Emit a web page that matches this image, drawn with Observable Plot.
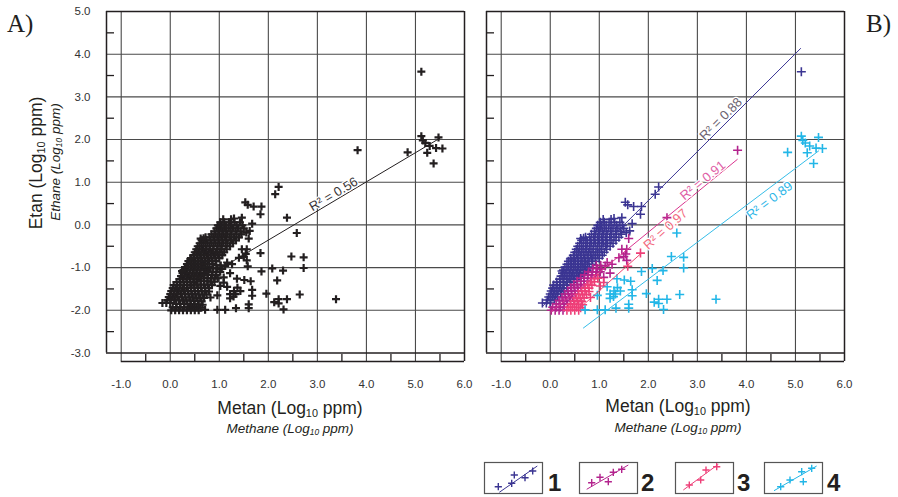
<!DOCTYPE html>
<html>
<head>
<meta charset="utf-8">
<script src="https://cdn.jsdelivr.net/npm/d3@7"></script>
<script src="https://cdn.jsdelivr.net/npm/@observablehq/plot@0.6"></script>
<style>
html,body{margin:0;padding:0;background:#fff;}
#wrap{position:relative;width:898px;height:497px;overflow:hidden;font-family:"Liberation Sans",Arial,Helvetica,sans-serif;color:#231f20;}
.abs{position:absolute;line-height:1;white-space:nowrap;}
.c{transform:translate(-50%,-50%);}
.v{transform:translate(-50%,-50%) rotate(-90deg);}
.main{font-size:17.5px;}
.it{font-size:13.5px;font-style:italic;}
.lab{font-family:"Liberation Serif","Times New Roman",serif;font-size:25px;}
sub{font-size:0.62em;vertical-align:baseline;position:relative;top:0.28em;}
.panel{position:absolute;top:0;}
</style>
</head>
<body>
<div id="wrap"></div>
<script>
// ---------- DATA (log10 ppm) ----------
// group 1 (blue)
const group1 = [
[-0.16,-1.83],[-0.08,-1.83],[0.0,-1.83],
[-0.06,-1.76],[0.01,-1.76],[0.08,-1.76],
[-0.03,-1.69],[0.04,-1.69],[0.11,-1.69],[0.15,-1.69],
[0.0,-1.62],[0.07,-1.62],[0.14,-1.62],[0.21,-1.62],
[0.02,-1.55],[0.09,-1.55],[0.16,-1.55],[0.23,-1.55],[0.28,-1.55],
[0.05,-1.48],[0.12,-1.48],[0.19,-1.48],[0.26,-1.48],[0.34,-1.48],
[0.07,-1.41],[0.14,-1.41],[0.21,-1.41],[0.28,-1.41],[0.35,-1.41],[0.42,-1.41],
[0.13,-1.34],[0.2,-1.34],[0.27,-1.34],[0.34,-1.34],[0.41,-1.34],[0.48,-1.34],
[0.19,-1.27],[0.26,-1.27],[0.33,-1.27],[0.4,-1.27],[0.47,-1.27],[0.55,-1.27],
[0.22,-1.2],[0.29,-1.2],[0.36,-1.2],[0.43,-1.2],[0.5,-1.2],[0.57,-1.2],[0.62,-1.2],
[0.25,-1.13],[0.32,-1.13],[0.39,-1.13],[0.46,-1.13],[0.53,-1.13],[0.6,-1.13],[0.68,-1.13],
[0.27,-1.06],[0.34,-1.06],[0.41,-1.06],[0.48,-1.06],[0.55,-1.06],[0.62,-1.06],[0.69,-1.06],[0.75,-1.06],
[0.3,-0.99],[0.37,-0.99],[0.44,-0.99],[0.51,-0.99],[0.58,-0.99],[0.65,-0.99],[0.72,-0.99],[0.8,-0.99],
[0.34,-0.92],[0.41,-0.92],[0.48,-0.92],[0.55,-0.92],[0.62,-0.92],[0.69,-0.92],[0.76,-0.92],[0.86,-0.92],
[0.37,-0.85],[0.44,-0.85],[0.51,-0.85],[0.58,-0.85],[0.65,-0.85],[0.72,-0.85],[0.79,-0.85],[0.86,-0.85],[0.93,-0.85],
[0.42,-0.78],[0.49,-0.78],[0.56,-0.78],[0.63,-0.78],[0.7,-0.78],[0.77,-0.78],[0.84,-0.78],[0.92,-0.78],[1.0,-0.78],
[0.47,-0.71],[0.54,-0.71],[0.61,-0.71],[0.68,-0.71],[0.75,-0.71],[0.82,-0.71],[0.89,-0.71],[0.97,-0.71],[1.06,-0.71],
[0.5,-0.64],[0.57,-0.64],[0.64,-0.64],[0.71,-0.64],[0.78,-0.64],[0.85,-0.64],[0.93,-0.64],[1.01,-0.64],[1.1,-0.64],
[0.53,-0.57],[0.6,-0.57],[0.67,-0.57],[0.74,-0.57],[0.81,-0.57],[0.88,-0.57],[0.96,-0.57],[1.05,-0.57],[1.15,-0.57],
[0.56,-0.5],[0.64,-0.5],[0.72,-0.5],[0.8,-0.5],[0.88,-0.5],[0.96,-0.5],[1.04,-0.5],[1.13,-0.5],[1.22,-0.5],
[0.6,-0.43],[0.68,-0.43],[0.76,-0.43],[0.84,-0.43],[0.92,-0.43],[1.0,-0.43],[1.08,-0.43],[1.17,-0.43],[1.28,-0.43],
[0.64,-0.36],[0.73,-0.36],[0.82,-0.36],[0.9,-0.36],[0.98,-0.36],[1.06,-0.36],[1.14,-0.36],[1.24,-0.36],[1.34,-0.36],
[0.72,-0.29],[0.8,-0.29],[0.88,-0.29],[0.96,-0.29],[1.04,-0.29],[1.12,-0.29],[1.21,-0.29],[1.3,-0.29],[1.4,-0.29],
[0.84,-0.22],[0.92,-0.22],[1.0,-0.22],[1.08,-0.22],[1.16,-0.22],[1.25,-0.22],[1.35,-0.22],[1.45,-0.22],
[0.9,-0.15],[0.98,-0.15],[1.06,-0.15],[1.14,-0.15],[1.23,-0.15],[1.33,-0.15],[1.43,-0.15],[1.55,-0.18],
[0.94,-0.08],[1.02,-0.08],[1.1,-0.08],[1.19,-0.08],[1.28,-0.08],[1.38,-0.08],[1.5,-0.08],[1.62,-0.14],
[0.97,-0.01],[1.05,-0.01],[1.14,-0.01],[1.24,-0.01],[1.35,-0.01],[1.47,-0.01],[1.67,0.03],
[1.02,0.06],[1.1,0.06],[1.2,0.06],[1.31,0.06],[1.42,0.06],
[1.08,0.13],[1.24,0.13],[1.3,0.15],[1.46,0.17],
[0.41,-0.8],[0.62,-0.32],[0.24,-1.08],[0.68,-0.31],
[1.53,0.53],[1.58,0.47],[1.7,0.43],[1.86,0.43],[1.84,0.25],[2.14,0.72],[2.21,0.89],[5.12,3.59]
];
// group 2 (magenta)
const group2 = [
[0.02,-2.0],[0.1,-2.0],[0.18,-2.0],[0.26,-2.0],
[0.05,-1.93],[0.13,-1.93],[0.21,-1.93],[0.29,-1.93],
[0.12,-1.85],[0.2,-1.85],[0.28,-1.85],[0.35,-1.85],
[0.18,-1.77],[0.26,-1.77],[0.33,-1.77],[0.41,-1.77],
[0.24,-1.7],[0.31,-1.7],[0.39,-1.7],[0.46,-1.7],
[0.3,-1.62],[0.37,-1.62],[0.44,-1.62],[0.51,-1.62],
[0.36,-1.55],[0.43,-1.55],[0.5,-1.55],[0.57,-1.55],
[0.42,-1.47],[0.49,-1.47],[0.56,-1.47],[0.63,-1.47],
[0.48,-1.4],[0.55,-1.4],[0.62,-1.4],[0.69,-1.4],
[0.55,-1.32],[0.62,-1.32],[0.69,-1.32],[0.76,-1.32],
[0.62,-1.25],[0.69,-1.25],[0.76,-1.25],[0.83,-1.25],
[0.7,-1.17],[0.77,-1.17],[0.85,-1.17],[0.93,-1.17],
[0.78,-1.1],[0.86,-1.1],[0.94,-1.1],[1.02,-1.1],
[0.87,-1.02],[0.96,-1.02],[1.05,-1.03],
[0.94,-0.95],[1.03,-0.95],[1.12,-0.96],
[1.09,-1.23],[1.22,-1.13],[1.16,-0.88],[1.26,-0.92],[1.4,-0.77],[1.5,-0.74],[1.56,-0.83],
[1.54,-0.68],[1.46,-0.57],[1.56,-0.57],[1.6,-0.32],[2.38,0.17],[3.82,1.75]
];
// group 3 (pink)
const group3 = [
[0.34,-2.0],[0.42,-2.0],[0.5,-2.0],[0.58,-2.0],
[0.38,-1.93],[0.46,-1.93],[0.54,-1.93],[0.62,-1.94],
[0.42,-1.86],[0.5,-1.86],[0.58,-1.86],[0.66,-1.87],
[0.48,-1.78],[0.56,-1.78],[0.64,-1.79],
[0.53,-1.71],[0.61,-1.71],[0.69,-1.71],[0.82,-1.7],
[0.58,-1.63],[0.66,-1.63],[0.74,-1.63],
[0.64,-1.55],[0.71,-1.55],[0.79,-1.56],
[0.71,-1.48],[0.79,-1.48],
[0.76,-1.4],[0.85,-1.41],
[0.82,-1.33],[0.9,-1.33],
[0.9,-1.26],[0.97,-1.25],
[1.02,-1.43],[1.09,-1.35],[1.58,-0.97],[1.84,-0.66]
];
// group 4 (cyan)
const group4 = [
[0.71,-1.99],[0.96,-1.99],[1.12,-1.99],[1.34,-1.95],[1.6,-1.95],[1.6,-1.86],
[0.96,-1.65],[1.22,-1.72],[1.22,-1.62],[1.29,-1.68],[1.33,-1.62],[1.3,-1.55],[1.37,-1.47],[1.43,-1.55],
[1.16,-1.45],[1.36,-1.26],[1.51,-1.29],[1.64,-1.32],[1.67,-1.52],[1.67,-1.66],
[1.86,-1.09],[2.08,-1.02],[2.3,-1.07],[2.18,-1.3],[1.96,-1.61],[2.12,-1.81],[2.21,-1.84],[2.21,-1.74],
[2.38,-1.74],[2.31,-1.98],[2.64,-1.63],[3.38,-1.74],
[2.47,-0.74],[2.72,-0.76],[2.72,-1.01],[2.58,-0.19],
[4.84,1.7],[5.12,2.08],[5.15,1.98],[5.2,1.92],[5.29,1.85],[5.47,2.05],[5.42,1.8],[5.55,1.79],[5.24,1.69],[5.37,1.44]
];
const groupNames = ["1", "2", "3", "4"];
const groupColors = ["#3b3592", "#b3238d", "#ee3f78", "#22b6e7"];

// fitted lines (end points) and R² labels
const fitGroups = ["all", "1", "2", "3", "4"];
const fitX1 = [-0.16, -0.16, 0.0, 0.6, 0.67];
const fitY1 = [-1.83, -1.91, -2.05, -1.95, -2.42];
const fitX2 = [5.51, 5.11, 3.82, 1.84, 5.48];
const fitY2 = [2.04, 4.14, 1.54, -0.68, 1.74];
const fitR2 = ["0.56", "0.88", "0.91", "0.97", "0.89"];
const labelX = [3.33, 3.48, 3.11, 2.35, 4.47];
const labelY = [0.72, 2.48, 1.04, -0.10, 0.57];
const fitLineColors = ["#231f20", "#3d3896", "#d9348f", "#ef4470", "#35bde8"];
const fitTextColors = ["#3a3637", "#6d6472", "#e05ea6", "#f26a80", "#2db6e7"];

// axes
const xDomain = [-1.3, 6];
const yDomain = [-3.2, 5];
const xMajor = [-1, 0, 1, 2, 3, 4, 5, 6];
const yMajor = [-3, -2, -1, 0, 1, 2, 3, 4, 5];
const xHalf = [-0.5, 0.5, 1.5, 2.5, 3.5, 4.5, 5.5];
const yHalf = [-2.5, -1.5, -0.5, 0.5, 1.5, 2.5, 3.5, 4.5];

// ---------- LAYOUT ----------
const W = 480, H = 400, mL = 106, mR = 16, mT = 11, mB = 39;
const kx = (W - mL - mR) / (xDomain[1] - xDomain[0]);
const ky = (H - mT - mB) / (yDomain[1] - yDomain[0]);
const gridColor = "#4a4a4a", frameColor = "#231f20";
const font = "'Liberation Sans', Arial, Helvetica, sans-serif";

const groups = [group1, group2, group3, group4].map((arr, i) => ({
  name: groupNames[i], color: groupColors[i],
  rows: arr.map(([x, y]) => ({x, y, g: groupNames[i]}))
}));
const allPoints = groups.flatMap(g => g.rows);

const fits = fitGroups.map((g, i) => ({
  g, x1: fitX1[i], y1: fitY1[i], x2: fitX2[i], y2: fitY2[i],
  lx: labelX[i], ly: labelY[i], label: `R² = ${fitR2[i]}`,
  line: fitLineColors[i], text: fitTextColors[i],
  angle: -Math.atan((fitY2[i] - fitY1[i]) / (fitX2[i] - fitX1[i]) * ky / kx) * 180 / Math.PI
}));

function fitMarks(f) {
  return [
    Plot.link([f], {x1: "x1", y1: "y1", x2: "x2", y2: "y2", stroke: f.line, strokeWidth: 1}),
    Plot.text([f], {x: "lx", y: "ly", text: "label", rotate: f.angle, fill: f.text, fontSize: 13,
      stroke: "white", strokeWidth: 2.5, paintOrder: "stroke"})
  ];
}

function panel(showYLabels, dataMarks) {
  const marks = [
    Plot.ruleX(xMajor.filter(v => v < xDomain[1]), {y1: yDomain[0], y2: yDomain[1], stroke: gridColor, strokeWidth: 1.1}),
    Plot.ruleY(yMajor.filter(v => v > yMajor[0] && v < yDomain[1]), {x1: xDomain[0], x2: xDomain[1], stroke: gridColor, strokeWidth: 1.1}),
    ...dataMarks,
    Plot.ruleY([yDomain[1], yMajor[0]], {x1: xDomain[0], x2: xDomain[1], stroke: frameColor, strokeWidth: 1.5}),
    Plot.ruleY([yDomain[0]], {x1: xMajor[0], x2: xDomain[1], stroke: frameColor, strokeWidth: 1.5}),
    Plot.ruleX([xDomain[0]], {y1: yMajor[0], y2: yDomain[1], stroke: frameColor, strokeWidth: 1.5}),
    Plot.ruleX([xDomain[1]], {y1: yDomain[0], y2: yDomain[1], stroke: frameColor, strokeWidth: 1.5}),
    Plot.ruleX(xHalf, {y1: yDomain[0], y2: yDomain[0] + 7 / ky, stroke: frameColor, strokeWidth: 1.3}),
    Plot.ruleY(yHalf, {x1: xDomain[0], x2: xDomain[0] + 8 / kx, stroke: frameColor, strokeWidth: 1.3}),
    Plot.axisX({ticks: xMajor, tickSize: 0, tickPadding: 18, tickFormat: d => d.toFixed(1),
      fontSize: 11.5, fill: "#333", label: null})
  ];
  if (showYLabels) {
    marks.push(Plot.axisY({ticks: yMajor, tickSize: 0, tickPadding: 16, tickFormat: d => d.toFixed(1),
      fontSize: 11.5, fill: "#333", label: null}));
  }
  return Plot.plot({
    width: W, height: H, marginLeft: mL, marginRight: mR, marginTop: mT, marginBottom: mB,
    x: {domain: xDomain, axis: null, label: null},
    y: {domain: yDomain, axis: null, label: null},
    style: {fontFamily: font, background: "transparent", overflow: "visible"},
    marks
  });
}

const wrap = document.getElementById("wrap");

// Left panel A
const leftMarks = [
  Plot.dot(allPoints, {x: "x", y: "y", symbol: "plus", r: 2.7, stroke: "#231f20", strokeWidth: 2.2, fill: "none"}),
  ...fitMarks(fits[0])
];
const left = panel(true, leftMarks);
const ld = document.createElement("div"); ld.className = "panel"; ld.style.left = "0px"; ld.style.width = W + "px";
ld.appendChild(left); wrap.appendChild(ld);

// Right panel B
const rightMarks = [
  ...groups.map(g => Plot.dot(g.rows, {x: "x", y: "y", symbol: "plus", r: 3.0, stroke: g.color, strokeWidth: 1.6, fill: "none"})),
  ...fits.slice(1).flatMap(fitMarks)
];
const right = panel(false, rightMarks);
const rd = document.createElement("div"); rd.className = "panel"; rd.style.left = "380px"; rd.style.width = W + "px";
rd.appendChild(right); wrap.appendChild(rd);

// Text labels (HTML)
function addText(html, cls, x, y) {
  const d = document.createElement("div");
  d.className = "abs " + cls; d.style.left = x + "px"; d.style.top = y + "px"; d.innerHTML = html;
  wrap.appendChild(d);
}
addText("A)", "lab", 7, 11);
addText("B)", "lab", 866, 11);
addText("Metan (Log<sub>10</sub> ppm)", "main c", 290, 409);
addText("Methane (Log<sub>10</sub> ppm)", "it c", 290, 429);
addText("Metan (Log<sub>10</sub> ppm)", "main c", 678, 407);
addText("Methane (Log<sub>10</sub> ppm)", "it c", 678, 428);
addText("Etan (Log<sub>10</sub> ppm)", "main v", 37, 163);
addText("Ethane (Log<sub>10</sub> ppm)", "it v", 55.5, 162);

// Legend
const legendBoxX = [484, 579, 675, 764];
const legendNumX = [548, 641, 737, 827];
const legendGlyphs = [
  {line: [[15.3, 30.3], [53.3, 4]], pts: [[14.3, 24.7], [27.7, 21.3], [30.3, 13], [41, 15.7], [48.7, 9]]},
  {line: [[7.7, 27.3], [49.3, 3]], pts: [[12.7, 20.7], [21, 15.3], [29.3, 19.7], [34.3, 10.3], [42.7, 7.3]]},
  {line: [[8.3, 28], [43.3, 2.3]], pts: [[14.3, 23], [25.7, 18], [31, 8], [41.7, 4.7]]},
  {line: [[10, 28.7], [52.7, 4]], pts: [[16.7, 24.7], [26, 18], [37.7, 9.7], [39.3, 19.7], [47.7, 6.3]]}
];
const lsvg = d3.create("svg").attr("width", 898).attr("height", 497)
  .style("position", "absolute").style("left", "0px").style("top", "0px").style("pointer-events", "none");
groupNames.forEach((name, i) => {
  const g = lsvg.append("g").attr("transform", `translate(${legendBoxX[i]},462)`);
  g.append("rect").attr("x", 0.5).attr("y", 0.5).attr("width", 58).attr("height", 31)
    .attr("fill", "white").attr("stroke", "#555").attr("stroke-width", 1.2);
  const gl = legendGlyphs[i];
  g.append("line").attr("x1", gl.line[0][0]).attr("y1", gl.line[0][1]).attr("x2", gl.line[1][0]).attr("y2", gl.line[1][1])
    .attr("stroke", groupColors[i]).attr("stroke-width", 1);
  gl.pts.forEach(([px, py]) => {
    g.append("path").attr("d", `M${px - 3.6},${py}H${px + 3.6}M${px},${py - 3.6}V${py + 3.6}`)
      .attr("stroke", groupColors[i]).attr("stroke-width", 1.4).attr("fill", "none");
  });
  lsvg.append("text").attr("x", legendNumX[i]).attr("y", 490.5).text(name)
    .attr("font-family", font).attr("font-weight", "bold").attr("font-size", 24).attr("fill", "#231f20");
});
wrap.appendChild(lsvg.node());
</script>
</body>
</html>
